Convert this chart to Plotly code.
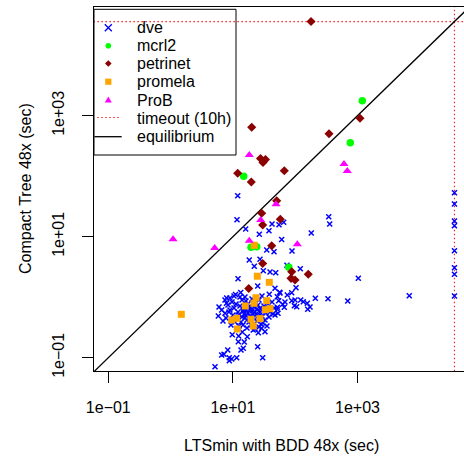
import numpy as np
import plotly.graph_objects as go

TIMEOUT = 36000.0  # 10h in seconds
LT = round(float(np.log10(TIMEOUT)), 4)

# ---- data (log10 of seconds), x = LTSmin BDD 48x, y = Compact Tree 48x ----
dve_bdd_log10 = [
    LT, LT, LT, LT, LT, LT, LT, LT,
    1.077, 1.066, 1.205, 1.628, 1.740, 1.815, 1.579, 1.424, 1.783, 1.543,
    1.660, 1.949, 1.263, 1.435, 1.343, 1.596, 1.687, 1.488, 1.868, 2.082,
    1.082, 1.398, 1.676, 2.013, 1.751, 1.873, 0.900, 1.042, 1.125, 1.194,
    1.584, 1.944, 2.323, 2.526, 2.843, 2.088, 2.130, 2.194, 2.238, 2.201,
    1.986, 1.944, 1.836, 1.735, 1.799, 1.825, 1.713, 1.713, 1.724, 1.997,
    2.024, 2.258, 2.538, 2.554, 3.013, 3.831, 1.756,
    0.766, 0.820, 0.873, 0.953, 0.953, 0.897, 1.167, 1.274, 1.435, 1.713,
    1.676, 0.990, 1.151, 1.327, 1.462, 1.515, 1.087, 1.183, 1.231, 1.167,
    1.130, 0.917, 0.857, 0.942, 1.061, 1.478, 1.398, 0.713, 0.820, 0.981,
    1.408, 1.093, 0.942,
    0.873, 0.921, 0.986, 1.018, 1.050, 1.082, 1.114, 1.146, 1.178, 1.210,
    1.242, 1.274, 1.307, 1.339, 1.371, 1.403, 1.435, 1.467, 1.499, 1.531,
    1.563, 1.596, 1.628, 1.660, 1.002, 1.066, 1.130, 1.194, 1.258, 1.323,
    1.387, 1.451, 1.515, 1.579, 1.644, 0.937, 0.889, 0.969, 1.034, 1.098,
    1.162, 1.226, 1.291, 1.355, 1.419, 1.483, 1.547, 0.777, 0.841, 1.210,
    1.307, 1.419, 1.467, 1.114, 1.018, 1.242, 1.355, 1.178, 1.274, 1.098,
    1.226, 1.162, 1.258, 1.323, 1.387, 1.451, 1.210, 1.291, 1.403, 1.146,
    1.499,
]
dve_tree_log10 = [
    1.727, 1.541, 1.260, 1.182, 0.769, 0.488, 0.379, 0.020,
    1.678, 1.281, 1.127, 1.210, 1.198, 1.238, 1.099, 1.040, 0.954, 0.780,
    0.752, 0.764, 0.615, 0.626, 0.511, 0.417, 0.405, 0.438, 0.527, 0.471,
    0.306, 0.185, 0.147, 0.157, 0.081, 0.036, -0.013, 0.045, 0.078, 0.003,
    0.048, 0.074, -0.018, -0.025, -0.063, -0.046, -0.074, -0.101, -0.162, -0.200,
    -0.140, -0.058, -0.079, -0.058, -0.117, -0.167, 0.008, -0.167, -0.266, -0.046,
    -0.157, 1.061, 1.331, 1.210, 0.312, 0.025, 0.069,
    -0.311, -0.212, -0.266, -0.212, -0.013, -0.101, -0.212, -0.183, -0.183, -0.200,
    -0.294, -0.620, -0.575, -0.542, -0.514, -0.570, -0.736, -0.740, -0.653, -0.845,
    -0.873, -0.873, -0.944, -1.000, -1.000, -1.000, -0.818, -1.149, -0.955, -1.021,
    -0.587, -0.641, -1.050,
    -0.046, -0.129, -0.079, -0.179, -0.112, -0.245, -0.145, -0.046, -0.278, -0.212,
    -0.112, -0.311, -0.228, -0.162, -0.278, -0.129, -0.245, -0.311, -0.145, -0.261,
    -0.112, -0.245, -0.079, -0.179, -0.294, -0.344, -0.410, -0.344, -0.410, -0.344,
    -0.393, -0.443, -0.377, -0.327, -0.278, -0.245, -0.344, -0.460, -0.410, -0.476,
    -0.460, -0.509, -0.460, -0.526, -0.493, -0.426, -0.476, -0.162, -0.393, -0.063,
    -0.030, -0.046, 0.020, 0.003, 0.020, -0.261, -0.245, -0.195, -0.212, -0.294,
    -0.377, -0.228, -0.162, -0.278, -0.195, -0.195, -0.294, -0.344, -0.311, -0.327,
    -0.212,
]

mcrl2_bdd_log10 = [1.173, 1.291, 1.382, 1.897, 3.077, 2.884]
mcrl2_tree_log10 = [1.998, 0.825, 0.835, 0.494, 3.248, 2.554]

petrinet_bdd_log10 = [2.254, 1.302, 1.443, 1.523, 1.483, 1.825, 1.077, 1.295,
                      1.703, 1.462, 1.478, 1.761, 1.623, 1.478, 1.254, 1.944,
                      1.933, 1.997, 2.210, 3.040, 2.543]
petrinet_tree_log10 = [LT, 2.808, 2.293, 2.276, 2.226, 2.091, 2.048, 1.904,
                       1.595, 1.387, 1.193, 1.288, 0.851, 0.557, 0.144, 0.421,
                       0.312, 0.284, 0.379, 2.957, 2.702]

promela_bdd_log10 = [0.172, 1.343, 1.392, 1.584, 1.371, 1.339, 1.199, 1.543,
                     1.596, 1.520, 1.291, 1.435, 1.327, 1.071, 1.061, 0.981]
promela_tree_log10 = [-0.283, 0.858, 0.347, 0.246, -0.008, -0.101, -0.145, -0.058,
                      -0.190, -0.207, -0.365, -0.355, -0.476, -0.526, -0.349, -0.377]

prob_bdd_log10 = [1.263, 1.692, 1.446, 0.039, 0.708, 1.263, 2.034, 2.783, 2.836]
prob_tree_log10 = [2.350, 1.536, 1.276, 0.957, 0.813, 0.934, 0.874, 2.202, 2.086]

tick_values = [0.1, 10, 1000]
tick_labels = ["1e\u221201", "1e+01", "1e+03"]
legend_labels = ["dve", "mcrl2", "petrinet", "promela", "ProB", "timeout (10h)", "equilibrium"]

FONT = "Liberation Sans, Arial, Helvetica, sans-serif"
W, H = 464, 457
ML, MR, MT, MB = 94, 0, 7, 86
RED_DOT = dict(color="#ff2020", width=1.2, dash="1.5px,2.5px")


def sec(v):
    return np.power(10.0, np.asarray(v, dtype=float))


fig = go.Figure()

# reference lines
far = [1e-4, 1e7]
fig.add_trace(go.Scatter(x=far, y=[TIMEOUT, TIMEOUT], mode="lines", line=RED_DOT,
                         hoverinfo="skip", showlegend=False))
fig.add_trace(go.Scatter(x=[TIMEOUT, TIMEOUT], y=far, mode="lines", line=RED_DOT,
                         hoverinfo="skip", showlegend=False))
fig.add_trace(go.Scatter(x=far, y=far, mode="lines",
                         line=dict(color="black", width=1.3),
                         hoverinfo="skip", showlegend=False))

fig.add_trace(go.Scatter(x=sec(dve_bdd_log10), y=sec(dve_tree_log10), mode="markers",
                         name="dve", showlegend=False,
                         marker=dict(symbol="x-thin", size=5, color="#0000ff",
                                     line=dict(color="#0000ff", width=1.5))))
fig.add_trace(go.Scatter(x=sec(mcrl2_bdd_log10), y=sec(mcrl2_tree_log10), mode="markers",
                         name="mcrl2", showlegend=False,
                         marker=dict(symbol="circle", size=7.5, color="#00ff00",
                                     line=dict(width=0))))
fig.add_trace(go.Scatter(x=sec(petrinet_bdd_log10), y=sec(petrinet_tree_log10), mode="markers",
                         name="petrinet", showlegend=False,
                         marker=dict(symbol="diamond", size=7, color="#8b0000",
                                     line=dict(width=0))))
fig.add_trace(go.Scatter(x=sec(promela_bdd_log10), y=sec(promela_tree_log10), mode="markers",
                         name="promela", showlegend=False,
                         marker=dict(symbol="square", size=7, color="#ffa500",
                                     line=dict(width=0))))
fig.add_trace(go.Scatter(x=sec(prob_bdd_log10), y=sec(prob_tree_log10), mode="markers",
                         name="ProB", showlegend=False,
                         marker=dict(symbol="triangle-up", size=8, color="#ff00ff",
                                     line=dict(width=0))))

pw = W - ML - MR
ph = H - MT - MB


def fx(px):
    return (px - ML) / pw


def fy(py):
    return (H - MB - py) / ph


axis_common = dict(type="log", tickvals=tick_values, ticktext=tick_labels,
                   ticks="outside", ticklen=11, tickwidth=1, tickcolor="black",
                   showgrid=False, zeroline=False, showline=True,
                   linecolor="black", linewidth=1,
                   tickfont=dict(family=FONT, size=16, color="black"))

fig.update_layout(
    width=W, height=H,
    margin=dict(l=ML, r=MR, t=MT, b=MB, autoexpand=False),
    paper_bgcolor="white", plot_bgcolor="white",
    showlegend=False,
    font=dict(family=FONT, size=16, color="black"),
    xaxis=dict(range=[-1.2295, 4.7095], mirror=True, ticklabelstandoff=11, **axis_common),
    yaxis=dict(range=[-1.2198, 4.7967], mirror=False, tickangle=-90,
               ticklabelstandoff=12, **axis_common),
)

# axis titles
fig.add_annotation(text="LTSmin with BDD 48x (sec)", xref="paper", yref="paper",
                   x=fx(281.5), y=fy(445), xanchor="center", yanchor="middle",
                   showarrow=False, font=dict(family=FONT, size=16))
fig.add_annotation(text="Compact Tree 48x (sec)", xref="paper", yref="paper",
                   x=fx(25), y=fy(189), xanchor="center", yanchor="middle",
                   textangle=-90, showarrow=False, font=dict(family=FONT, size=16))

# manual legend
rows = [27.7, 45.7, 63.5, 81.7, 100.0, 118.0, 136.7]
shapes = [dict(type="rect", xref="paper", yref="paper", x0=fx(94), x1=fx(236),
               y0=fy(155), y1=fy(9.3), line=dict(color="black", width=1),
               fillcolor="rgba(0,0,0,0)")]
sx = fx(108.3)
common = dict(xref="paper", yref="paper", xsizemode="pixel", ysizemode="pixel", xanchor=sx)
shapes.append(dict(type="path", yanchor=fy(rows[0]), path="M-3.5,-3.5 L3.5,3.5 M-3.5,3.5 L3.5,-3.5",
                   line=dict(color="#0000ff", width=1.3), **common))
shapes.append(dict(type="circle", yanchor=fy(rows[1]), x0=-2.8, x1=2.8, y0=-2.8, y1=2.8,
                   fillcolor="#00ff00", line=dict(width=0), **common))
shapes.append(dict(type="path", yanchor=fy(rows[2]), path="M0,-3.3 L3.3,0 L0,3.3 L-3.3,0 Z",
                   fillcolor="#8b0000", line=dict(width=0), **common))
shapes.append(dict(type="rect", yanchor=fy(rows[3]), x0=-3.1, x1=3.1, y0=-3.1, y1=3.1,
                   fillcolor="#ffa500", line=dict(width=0), **common))
shapes.append(dict(type="path", yanchor=fy(rows[4]), path="M-3.5,-2.5 L3.5,-2.5 L0,3.6 Z",
                   fillcolor="#ff00ff", line=dict(width=0), **common))
shapes.append(dict(type="line", xref="paper", yref="paper", x0=fx(97.3), x1=fx(120.7),
                   y0=fy(117.5), y1=fy(117.5), line=RED_DOT))
shapes.append(dict(type="line", xref="paper", yref="paper", x0=fx(94.5), x1=fx(121.7),
                   y0=fy(136.7), y1=fy(136.7), line=dict(color="black", width=1.3)))
fig.update_layout(shapes=shapes)

for label, ry in zip(legend_labels, rows):
    fig.add_annotation(text=label, xref="paper", yref="paper", x=fx(134.5), y=fy(ry),
                       xanchor="left", yanchor="middle", showarrow=False,
                       font=dict(family=FONT, size=16, color="black"))

fig.write_html("out.html",
               config={"displayModeBar": False},
               post_script="document.body.style.margin='0';document.body.style.overflow='hidden';")
